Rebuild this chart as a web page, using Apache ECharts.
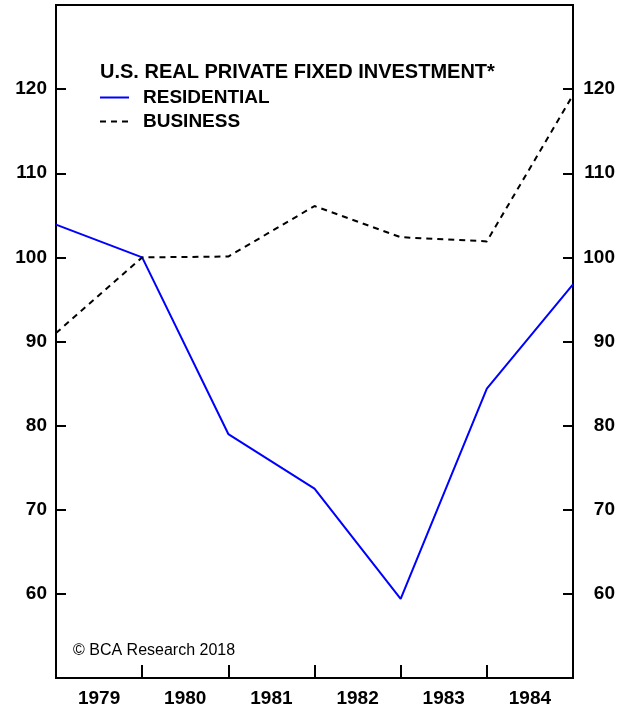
<!DOCTYPE html>
<html>
<head>
<meta charset="utf-8">
<script src="https://cdn.jsdelivr.net/npm/echarts@6/dist/echarts.min.js"></script>
<style>
  html, body { margin: 0; padding: 0; background: #fff; }
  #chart { width: 633px; height: 708px; }
</style>
</head>
<body>
<div id="chart"></div>
<script>
  // points sit on year boundaries, labels sit in the middle of each year
  const pointLabels = ['1979', '1980', '1981', '1982', '1983', '1984', '1985']
  const yearLabels = ['1979', '1980', '1981', '1982', '1983', '1984']
  const residential = [103.9, 100, 79.0, 72.5, 59.4, 84.4, 96.8]
  const business = [91.0, 100, 100.1, 106.1, 102.4, 101.9, 119.3]
  const yTicks = [60, 70, 80, 90, 100, 110, 120]

  const font = 'Liberation Sans, Arial, sans-serif'
  const yLabel = (v) => (yTicks.indexOf(v) >= 0 ? String(v) : '')

  const yAxisBase = {
    type: 'value',
    min: 50,
    max: 130,
    interval: 10,
    splitLine: { show: false },
    axisLine: { show: true, lineStyle: { color: '#000', width: 2 } },
    axisTick: { show: true, inside: true, length: 10, lineStyle: { color: '#000', width: 2 } },
    axisLabel: {
      formatter: yLabel,
      margin: 9,
      color: '#000',
      fontFamily: font,
      fontWeight: 'bold',
      fontSize: 19,
    },
  }

  const chart = echarts.init(document.getElementById('chart'))
  chart.setOption({
    animation: false,
    backgroundColor: '#fff',
    grid: {
      left: 56,
      right: 60,
      top: 5,
      bottom: 30,
      show: true,
      borderColor: '#000',
      borderWidth: 2,
    },
    title: {
      text: 'U.S. REAL PRIVATE FIXED INVESTMENT*',
      left: 100,
      top: 62,
      padding: 0,
      textStyle: { fontFamily: font, fontWeight: 'bold', fontSize: 20, color: '#000' },
    },
    legend: {
      orient: 'vertical',
      left: 99,
      top: 88,
      padding: 0,
      itemWidth: 29,
      itemHeight: 14,
      itemGap: 5,
      data: ['RESIDENTIAL', 'BUSINESS'],
      itemStyle: { opacity: 0 },
      textStyle: {
        fontFamily: font,
        fontWeight: 'bold',
        fontSize: 19,
        lineHeight: 19,
        color: '#000',
        padding: [0, 0, 0, 9],
      },
    },
    graphic: [
      {
        type: 'text',
        left: 73,
        top: 643,
        style: { text: '© BCA Research 2018', font: '16px ' + font, fill: '#000' },
      },
    ],
    xAxis: [
      {
        type: 'category',
        data: yearLabels,
        boundaryGap: true,
        position: 'bottom',
        axisLine: { show: true, lineStyle: { color: '#000', width: 2 } },
        axisTick: { show: true, inside: true, length: 13, lineStyle: { color: '#000', width: 2 } },
        axisLabel: {
          margin: 11,
          color: '#000',
          fontFamily: font,
          fontWeight: 'bold',
          fontSize: 19,
        },
        splitLine: { show: false },
      },
      {
        type: 'category',
        data: pointLabels,
        boundaryGap: false,
        show: false,
      },
    ],
    yAxis: [
      Object.assign({}, yAxisBase, { position: 'left' }),
      Object.assign({}, yAxisBase, {
        position: 'right',
        axisLabel: Object.assign({}, yAxisBase.axisLabel, { align: 'right', margin: 42 }),
      }),
    ],
    series: [
      {
        name: 'RESIDENTIAL',
        type: 'line',
        xAxisIndex: 1,
        yAxisIndex: 0,
        data: residential,
        symbol: 'none',
        lineStyle: { color: '#0000ff', width: 2 },
        itemStyle: { color: '#0000ff' },
      },
      {
        name: 'BUSINESS',
        type: 'line',
        xAxisIndex: 1,
        yAxisIndex: 0,
        data: business,
        symbol: 'none',
        lineStyle: { color: '#000', width: 2, type: [6, 5] },
        itemStyle: { color: '#000' },
      },
    ],
  })
</script>
</body>
</html>
